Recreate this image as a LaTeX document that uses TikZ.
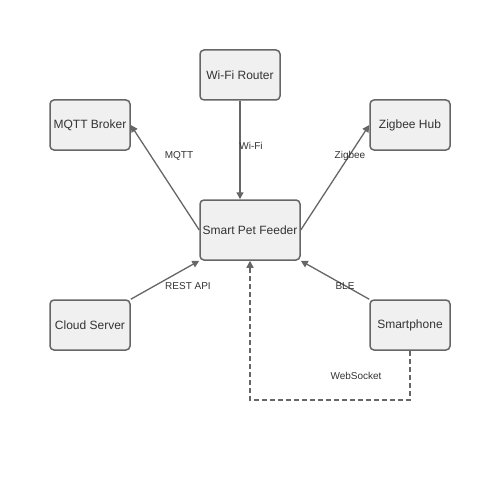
\documentclass[tikz,border=0pt]{standalone}
\usepackage{fontspec}
\setmainfont{Liberation Sans}
\usetikzlibrary{arrows.meta}
\definecolor{edgec}{HTML}{666666}
\definecolor{fillc}{HTML}{F0F0F0}
\definecolor{textc}{HTML}{333333}
\begin{document}
\begin{tikzpicture}[x=1pt,y=-1pt,
  box/.style={draw=edgec,fill=fillc,line width=1.5pt,rounded corners=4pt,
    text=textc,font=\fontsize{12}{14}\selectfont,inner sep=0pt,anchor=center},
  conn/.style={draw=edgec,line width=1.3pt,-{Triangle[length=7pt,width=7pt]}},
  lbl/.style={text=textc,font=\fontsize{10}{12}\selectfont,inner sep=0pt}]
\useasboundingbox (0,0) rectangle (500,500);
\node[box,minimum width=80pt,minimum height=50pt] (router) at (240,75) {Wi-Fi Router};
\node[box,minimum width=80pt,minimum height=50pt] (mqtt) at (90,125) {MQTT Broker};
\node[box,minimum width=80pt,minimum height=50pt] (zigbee) at (410,125) {Zigbee Hub};
\node[box,minimum width=100pt,minimum height=60pt] (feeder) at (250,230) {Smart Pet Feeder};
\node[box,minimum width=80pt,minimum height=50pt] (cloud) at (90,325) {Cloud Server};
\node[box,minimum width=80pt,minimum height=50pt] (phone) at (410,325) {Smartphone};
\coordinate (c1) at (410,400);
\coordinate (c2) at (250,400);
\draw[conn] (router.south) -- (router.south |- feeder.north);
\draw[conn] (feeder.west) -- (mqtt.east);
\draw[conn] (feeder.east) -- (zigbee.west);
\draw[conn] (cloud.north east) -- (feeder.south west);
\draw[conn] (phone.north west) -- (feeder.south east);
\draw[conn,dash pattern=on 5pt off 3pt] (phone.south) -- (c1) -- (c2) -- (feeder.south);
\node[lbl] (lwifi) at (251,146) {Wi-Fi};
\node[lbl] (lmqtt) at (179,156) {MQTT};
\node[lbl] (lzig) at (350,156) {Zigbee};
\node[lbl] (lrest) at (188,286) {REST API};
\node[lbl] (lble) at (345,286) {BLE};
\node[lbl] (lws) at (356,376) {WebSocket};
\end{tikzpicture}
\end{document}
